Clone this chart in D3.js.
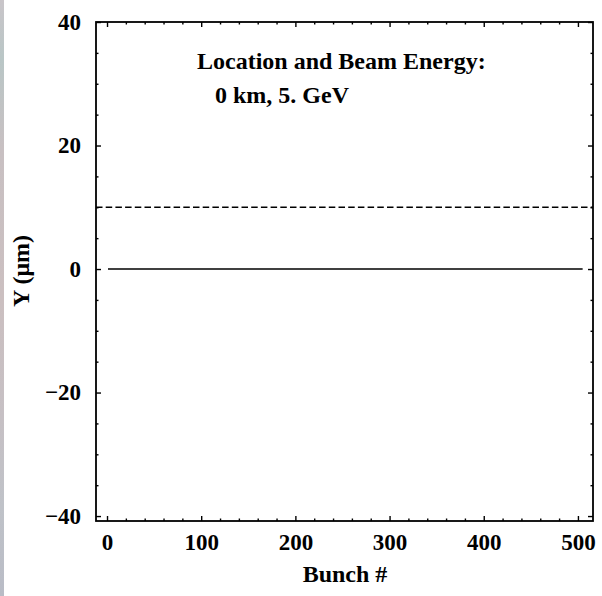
<!DOCTYPE html>
<html>
<head>
<meta charset="utf-8">
<script src="https://cdn.jsdelivr.net/npm/d3@7"></script>
<style>
  body { margin: 0; background: #fff; }
  svg text { font-family: "Liberation Serif", "Times New Roman", serif; font-weight: bold; fill: #000; }
  .axis path.domain { display: none; }
  .axis line { stroke: #000; stroke-width: 1.4; }
</style>
</head>
<body>
<svg id="chart" width="602" height="596"></svg>
<script>
// Data
const bunch = [1, 505];            // bunch numbers covered by the orbit trace
const yOrbit = [0, 0];             // Y offset (um) along the train
const yLimit = 10;                 // dashed reference level (um)
const xMajor = [0, 100, 200, 300, 400, 500];
const yMajor = [-40, -20, 0, 20, 40];
const title = ["Location and Beam Energy:", "0 km, 5. GeV"];
const xLabel = "Bunch #";
const yLabel = "Y (\u03bcm)";

// Main components
const svg = d3.select('#chart');
const W = 602, H = 596;

const frame = { left: 96, right: 593, top: 22, bottom: 521 };

// x: 0 -> 107px, 500 -> 577px ; y: 40 -> 22px, -40 -> 516px
const x = d3.scaleLinear().domain([-11.7, 516]).range([frame.left, frame.right]);
const y = d3.scaleLinear().domain([-40.8, 40]).range([frame.bottom, frame.top]);

// textured strip on the left edge
const grad = svg.append('defs').append('linearGradient')
    .attr('id', 'strip').attr('x1', 0).attr('y1', 0).attr('x2', 0).attr('y2', 1);
[['0', '#c9c5c9'], ['0.1', '#b9c6c6'], ['0.25', '#c8c0c2'], ['0.5', '#cbbfc0'],
 ['0.7', '#c6c0c4'], ['0.85', '#bfc2c8'], ['1', '#b9bcc6']]
    .forEach(s => grad.append('stop').attr('offset', s[0]).attr('stop-color', s[1]));
svg.append('rect').attr('x', 0).attr('y', 0).attr('width', 4).attr('height', H)
    .attr('fill', 'url(#strip)');

// -------------------------------------------------------------------------------------------------------------
// Axes (ticks point inward on all four sides)
// -------------------------------------------------------------------------------------------------------------
const xMinor = d3.range(0, 501, 20).filter(v => !xMajor.includes(v));
const yMinor = d3.range(-40, 41, 5).filter(v => !yMajor.includes(v));

function addAxis(axisFn, scale, pos, major, minor, labels) {
    const tx = (axisFn === d3.axisLeft || axisFn === d3.axisRight) ? `translate(${pos},0)` : `translate(0,${pos})`;
    const g1 = svg.append('g').attr('class', 'axis').attr('transform', tx)
        .call(axisFn(scale).tickValues(minor).tickSize(-2.5).tickSizeOuter(0).tickFormat(''));
    const g2 = svg.append('g').attr('class', 'axis').attr('transform', tx)
        .call(axisFn(scale).tickValues(major).tickSize(-5).tickSizeOuter(0)
            .tickPadding(axisFn === d3.axisBottom ? 13 : 15)
            .tickFormat(labels ? d3.format('') : ''));
    g2.selectAll('text').attr('font-size', 23);
    return g2;
}

addAxis(d3.axisBottom, x, frame.bottom, xMajor, xMinor, true);
addAxis(d3.axisTop, x, frame.top, xMajor, xMinor, false);
addAxis(d3.axisLeft, y, frame.left, yMajor, yMinor, true);
addAxis(d3.axisRight, y, frame.right, yMajor, yMinor, false);

// frame
svg.append('rect')
    .attr('x', frame.left).attr('y', frame.top)
    .attr('width', frame.right - frame.left).attr('height', frame.bottom - frame.top)
    .attr('fill', 'none').attr('stroke', '#000').attr('stroke-width', 1.8);

// -------------------------------------------------------------------------------------------------------------
// Lines
// -------------------------------------------------------------------------------------------------------------
const line = d3.line().x(d => x(d[0])).y(d => y(d[1]));

svg.append('path')
    .datum(x.domain().map(v => [v, yLimit]))
    .attr('d', line)
    .attr('fill', 'none').attr('stroke', '#000').attr('stroke-width', 1.4)
    .attr('stroke-dasharray', '6.5,3.2');

svg.append('path')
    .datum(bunch.map((b, i) => [b, yOrbit[i]]))
    .attr('d', line)
    .attr('fill', 'none').attr('stroke', '#000').attr('stroke-width', 1.6);

// -------------------------------------------------------------------------------------------------------------
// Text
// -------------------------------------------------------------------------------------------------------------
svg.append('text').attr('x', 197).attr('y', 69).attr('font-size', 24).text(title[0]);
svg.append('text').attr('x', 215).attr('y', 103).attr('font-size', 24).text(title[1]);

svg.append('text')
    .attr('x', 345).attr('y', 582)
    .attr('text-anchor', 'middle').attr('font-size', 24)
    .text(xLabel);

svg.append('text')
    .attr('transform', `translate(29,${y(0) + 2}) rotate(-90)`)
    .attr('text-anchor', 'middle').attr('font-size', 24)
    .text(yLabel);
</script>
</body>
</html>
